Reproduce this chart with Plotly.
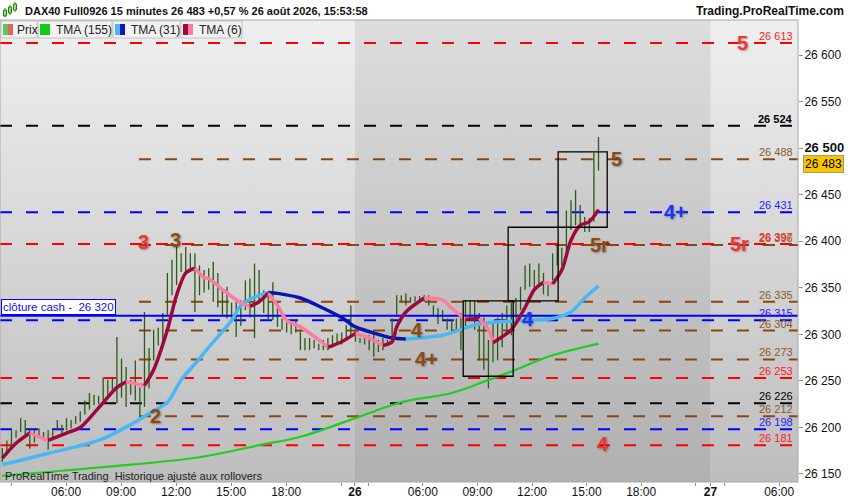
import plotly.graph_objects as go

# ---------------- data ----------------
opens = [26168,26173,26181,26193,26197,26204,26194,26186,26195,26191,
         26177,26191,26205,26197,26199,26204,26206,26208,26217,26224,
         26229,26227,26231,26238,26240,26246,26268,26238,26240,26271,
         26224,26226,26272,26274,26294,26294,26323,26344,26369,26378,
         26367,26371,26380,26367,26348,26364,26360,26356,26331,26337,
         26326,26318,26315,26329,26340,26334,26366,26344,26321,26329,
         26331,26308,26310,26305,26313,26285,26294,26285,26287,26285,
         26291,26285,26292,26292,26292,26298,26305,26301,26294,26292,
         26286,26298,26283,26285,26291,26299,26323,26337,26335,26337,
         26339,26337,26339,26340,26326,26313,26317,26307,26302,26313,
         26285,26312,26329,26334,26299,26312,26272,26310,26278,26294,
         26308,26317,26323,26329,26355,26374,26358,26355,26364,26344,
         26361,26378,26378,26390,26428,26423,26421,26423,26412,26426,
         26492]
highs = [26178,26186,26199,26197,26210,26208,26199,26197,26199,26195,
         26197,26197,26208,26203,26210,26208,26212,26217,26229,26237,
         26235,26234,26254,26251,26253,26297,26274,26265,26251,26272,
         26243,26324,26285,26305,26307,26323,26366,26380,26395,26387,
         26394,26387,26387,26374,26369,26371,26378,26366,26348,26351,
         26334,26335,26337,26358,26360,26376,26369,26347,26344,26356,
         26335,26317,26313,26313,26315,26305,26296,26296,26294,26290,
         26294,26296,26299,26301,26302,26310,26331,26305,26296,26296,
         26299,26301,26294,26296,26294,26317,26342,26342,26344,26340,
         26341,26341,26342,26342,26331,26328,26326,26317,26315,26317,
         26323,26337,26337,26336,26323,26318,26294,26313,26318,26323,
         26331,26334,26339,26351,26374,26376,26369,26376,26366,26353,
         26387,26396,26393,26433,26444,26455,26439,26426,26425,26495,
         26512]
lows = [26163,26170,26179,26189,26195,26191,26177,26184,26191,26186,
        26176,26189,26197,26193,26197,26199,26204,26206,26214,26219,
        26224,26225,26229,26235,26238,26226,26232,26222,26235,26229,
        26211,26222,26242,26272,26288,26292,26321,26342,26353,26367,
        26364,26367,26324,26342,26345,26348,26335,26329,26321,26317,
        26313,26297,26309,26326,26318,26296,26334,26323,26315,26315,
        26308,26305,26302,26300,26302,26283,26283,26283,26285,26283,
        26283,26283,26288,26289,26289,26296,26299,26292,26291,26289,
        26283,26276,26281,26283,26289,26297,26321,26335,26331,26335,
        26335,26335,26335,26331,26321,26311,26315,26305,26300,26305,
        26283,26309,26317,26305,26272,26262,26242,26270,26272,26286,
        26301,26299,26317,26326,26348,26351,26348,26351,26343,26341,
        26358,26374,26374,26388,26412,26417,26417,26410,26410,26421,
        26476]
closes = [26173,26181,26195,26191,26208,26195,26183,26193,26197,26189,
          26190,26195,26199,26200,26206,26203,26210,26214,26226,26231,
          26228,26234,26248,26249,26251,26267,26252,26246,26247,26251,
          26240,26262,26283,26297,26299,26315,26345,26360,26378,26369,
          26374,26378,26364,26348,26367,26358,26342,26335,26341,26331,
          26321,26326,26331,26355,26353,26367,26337,26334,26331,26344,
          26310,26315,26302,26310,26305,26299,26285,26294,26292,26288,
          26285,26292,26297,26298,26300,26307,26310,26294,26295,26294,
          26298,26278,26290,26294,26293,26315,26340,26341,26341,26338,
          26336,26340,26341,26334,26328,26326,26323,26315,26312,26308,
          26317,26334,26335,26317,26310,26272,26288,26278,26310,26315,
          26326,26329,26335,26348,26371,26361,26364,26372,26351,26351,
          26380,26390,26390,26423,26421,26439,26437,26414,26421,26492,
          26483]
bar_idx = list(range(len(opens)))

tma155_idx = [0, 21, 43, 56, 65, 77, 87, 98, 105, 112, 119, 130]
tma155_val = [26148, 26157, 26168, 26181, 26190, 26210, 26227, 26237, 26249, 26262, 26276, 26290]

tma31_idx = [0, 10, 21, 28, 32, 36, 39, 43, 45, 50, 52, 55, 58, 60, 65, 70, 74, 77, 82, 85,
             88, 96, 100, 103, 107, 114, 120, 124, 127, 130]
tma31_val = [26160, 26172, 26186, 26203, 26215, 26227, 26251, 26274, 26286, 26315, 26331, 26340,
             26345, 26344, 26339, 26328, 26318, 26308, 26300, 26296, 26295, 26299, 26305, 26310,
             26313, 26315, 26317, 26324, 26339, 26352]

tma6_idx = [0, 3, 6, 8, 10, 14, 17, 21, 25, 27, 31, 33, 36, 38, 40, 42, 44, 45, 48, 52, 54, 56,
            58, 60, 62, 65, 69, 71, 74, 77, 80, 83, 85, 86, 88, 92, 96, 98, 101, 104, 106, 107,
            111, 114, 116, 118, 120, 122, 124, 126, 128, 130]
tma6_val = [26167, 26183, 26194, 26190, 26186, 26194, 26200, 26221, 26243, 26249, 26245, 26262,
            26305, 26342, 26366, 26371, 26361, 26360, 26348, 26334, 26330, 26335, 26344, 26331,
            26315, 26308, 26294, 26286, 26292, 26301, 26296, 26288, 26292, 26308, 26324, 26339,
            26337, 26328, 26316, 26317, 26305, 26291, 26305, 26329, 26348, 26356, 26354, 26369,
            26401, 26417, 26421, 26434]

red_levels = [26613, 26397, 26253, 26181]
black_levels = [26524, 26226]
blue_levels = [26431, 26315, 26198]
brown_levels = [26488, 26396, 26335, 26304, 26273, 26212]
cash_close = 26320
last_price = 26483

# big zone labels: text, bar position, price level, family
zone_text = ["5", "5", "4+", "5r", "5r", "3", "3", "4", "4", "4+", "2", "4"]
zone_bar = [161.5, 134.0, 146.7, 160.8, 130.3, 30.7, 37.7, 114.6, 90.4, 92.6, 33.5, 131.0]
zone_price = [26613, 26488, 26431, 26397, 26396, 26399, 26401, 26317, 26305, 26274, 26212, 26182]
zone_kind = ["red", "brown", "blue", "red", "brown", "red", "brown", "blue", "brown", "brown", "brown", "red"]

box_x0 = [100.5, 110.3, 121.2]
box_x1 = [111.4, 121.2, 131.9]
box_lo = [26255, 26336, 26415]
box_hi = [26336, 26415, 26496]

y_ticks = list(range(26150, 26601, 50))
x_tick_labels = ["", "06:00", "09:00", "12:00", "15:00", "18:00", "", "<b>26</b>", "",
                 "06:00", "09:00", "12:00", "15:00", "18:00", "", "<b>27</b>", "", "06:00"]
x_tick_pos = [2.0, 13.9, 25.9, 37.9, 49.9, 61.9, 73.9, 76.9, 79.8,
              91.7, 103.6, 115.5, 127.4, 139.3, 151.2, 154.4, 157.4, 169.4]

# ---------------- style ----------------
FONT = "Liberation Sans, Arial, sans-serif"
X_RANGE = [-0.5, 173.5]
Y_RANGE = [26141.4, 26637.6]
COL = {"red": "#ff0000", "black": "#000000", "blue": "#0000ff", "brown": "#8b4513"}
LABEL_COL = {"red": "#ff1a1a", "black": "#000000", "blue": "#2222ff", "brown": "#8c5a2a"}
BIG_COL = {"red": "#ee3434", "brown": "#8a4a12", "blue": "#1634ff"}
WICK = "#2b5a12"
UP = "#74ea55"
DOWN = "#ee8a7a"
PLOT_W, PLOT_H, TOP, BOTTOM = 798, 462, 20, 482


def px(x):
    return x / PLOT_W


def py(y):
    return (BOTTOM - y) / PLOT_H


def fmt(v):
    return f"{v:,}".replace(",", " ")


fig = go.Figure()

# background day zones with vertical gradients
zones = [(X_RANGE[0], 76.9, "#bdbdbd", "#efefef"),
         (76.9, 154.4, "#b0b0b0", "#dddddd"),
         (154.4, X_RANGE[1], "#bdbdbd", "#efefef")]
for x0, x1, cb, ct in zones:
    fig.add_trace(go.Scatter(
        x=[x0, x1, x1, x0, x0], y=[Y_RANGE[0], Y_RANGE[0], Y_RANGE[1], Y_RANGE[1], Y_RANGE[0]],
        mode="lines", line=dict(width=0), fill="toself",
        fillgradient=dict(type="vertical", colorscale=[[0, cb], [1, ct]]),
        hoverinfo="skip"))

# dashed level lines
DASH = "12px,14px"
def level_line(v, kind, start):
    fig.add_trace(go.Scatter(x=[start, X_RANGE[1]], y=[v, v], mode="lines",
                             line=dict(color=COL[kind], width=2, dash=DASH), hoverinfo="skip"))

for v in brown_levels:
    level_line(v, "brown", 29.8)
for v in black_levels:
    level_line(v, "black", X_RANGE[0])
for v in blue_levels:
    level_line(v, "blue", X_RANGE[0])
for v in red_levels:
    level_line(v, "red", X_RANGE[0])

# candles: wicks + bodies
wx, wy = [], []
for i, h, l in zip(bar_idx, highs, lows):
    wx += [i, i, None]
    wy += [l, h, None]
fig.add_trace(go.Scatter(x=wx, y=wy, mode="lines", line=dict(color=WICK, width=1.3), hoverinfo="skip"))
bases = [min(o, c) for o, c in zip(opens, closes)]
heights = [max(abs(c - o), 1.5) for o, c in zip(opens, closes)]
colors = [UP if c >= o else DOWN for o, c in zip(opens, closes)]
fig.add_trace(go.Bar(x=bar_idx, y=heights, base=bases, width=0.8,
                     marker=dict(color=colors, line=dict(color=WICK, width=0.5)), hoverinfo="skip"))

# cash close
fig.add_trace(go.Scatter(x=X_RANGE, y=[cash_close, cash_close], mode="lines",
                         line=dict(color="#0000ff", width=2), hoverinfo="skip"))


def colored_line(xs, ys, up_col, down_col, width):
    n = len(xs)
    start = 0
    while start < n - 1:
        rising = ys[start + 1] >= ys[start]
        end = start + 1
        while end < n - 1 and (ys[end + 1] >= ys[end]) == rising:
            end += 1
        fig.add_trace(go.Scatter(x=xs[start:end + 1], y=ys[start:end + 1], mode="lines",
                                 line=dict(color=up_col if rising else down_col, width=width,
                                           shape="spline", smoothing=0.8),
                                 hoverinfo="skip"))
        start = end


fig.add_trace(go.Scatter(x=tma155_idx, y=tma155_val, mode="lines",
                         line=dict(color="#22cc22", width=2.2, shape="spline"), hoverinfo="skip"))
colored_line(tma31_idx, tma31_val, "#48b8f4", "#0a14b4", 3.5)
colored_line(tma6_idx, tma6_val, "#9c0a3c", "#ff7aa2", 3.5)

annotations = []
shapes = []

# boxes
for x0, x1, lo, hi in zip(box_x0, box_x1, box_lo, box_hi):
    shapes.append(dict(type="rect", xref="x", yref="y", x0=x0, x1=x1, y0=lo, y1=hi,
                       line=dict(color="#000000", width=1.3), fillcolor="rgba(0,0,0,0)"))

# level value labels on the right
def level_label(v, kind, bold=False):
    t = fmt(v)
    if bold:
        t = f"<b>{t}</b>"
    annotations.append(dict(x=0.996, xref="paper", y=v, yref="y", text=t, showarrow=False,
                            xanchor="right", yanchor="bottom", yshift=-1,
                            font=dict(size=11, color=LABEL_COL[kind], family=FONT)))

for v in brown_levels:
    level_label(v, "brown")
for v in black_levels:
    level_label(v, "black", bold=(v == max(black_levels)))
for v in blue_levels:
    level_label(v, "blue")
for v in red_levels:
    level_label(v, "red")

# big zone labels
for t, xb, yv, k in zip(zone_text, zone_bar, zone_price, zone_kind):
    annotations.append(dict(x=xb, y=yv, xref="x", yref="y", text=f"<b>{t}</b>", showarrow=False,
                            xanchor="center", yanchor="middle",
                            font=dict(size=20, color=BIG_COL[k], family=FONT,
                                      shadow="1px 1px 2px rgba(0,0,0,0.35)")))

# cash close box
annotations.append(dict(x=0, xref="paper", y=cash_close, yref="y", xanchor="left", yanchor="bottom",
                        xshift=1, yshift=1, text="clôture cash -  " + fmt(cash_close), showarrow=False,
                        bgcolor="white", bordercolor="#0000ff", borderwidth=1, borderpad=1,
                        font=dict(size=11.5, color="#1010ee", family=FONT)))

# last price tag
annotations.append(dict(x=1, xref="paper", y=last_price, yref="y", xanchor="left", yanchor="middle",
                        xshift=5, text=fmt(last_price), showarrow=False, bgcolor="#f7c600",
                        bordercolor="#a89a5a", borderwidth=1, borderpad=1,
                        font=dict(size=12, color="black", family=FONT)))

# footer text
annotations.append(dict(x=px(3), xref="paper", y=py(476), yref="paper", xanchor="left", yanchor="middle",
                        text="ProRealTime Trading  Historique ajusté aux rollovers", showarrow=False,
                        font=dict(size=11, color="#222222", family=FONT)))

# header
annotations.append(dict(x=px(23), xref="paper", y=py(11), yref="paper", xanchor="left", yanchor="middle",
                        text="<b>DAX40 Full0926 15 minutes 26 483 +0,57 % 26 août 2026, 15:53:58</b>",
                        showarrow=False, font=dict(size=11, color="#111111", family=FONT)))
annotations.append(dict(x=px(846), xref="paper", y=py(11), yref="paper", xanchor="right", yanchor="middle",
                        text="<b>Trading.ProRealTime.com</b>", showarrow=False,
                        font=dict(size=12, color="#111111", family=FONT)))
# header icon (small candles)
for cx, y0, y1, w0, w1 in [(5, 10, 16, 8, 17), (10, 7, 13, 5, 15), (15, 4, 10, 2, 12)]:
    shapes.append(dict(type="line", xref="paper", yref="paper", x0=px(cx), x1=px(cx), y0=py(w1), y1=py(w0),
                       line=dict(color="#2b7a12", width=1)))
    shapes.append(dict(type="rect", xref="paper", yref="paper", x0=px(cx - 1.5), x1=px(cx + 1.5),
                       y0=py(y1), y1=py(y0), line=dict(color="#2b7a12", width=1), fillcolor="#8fe070"))

# legend strip
legend_boxes = [(1, 37, "Prix", ["#5cc85c", "#e06464"], 15),
                (38, 112, "TMA (155)", ["#11cc11", "#11cc11"], 54),
                (113, 180, "TMA (31)", ["#48b8f4", "#0a14c8"], 129),
                (181, 242, "TMA (6)", ["#9c0a3c", "#ff7aa2"], 197)]
for x0, x1, label, cols, tx in legend_boxes:
    shapes.append(dict(type="rect", xref="paper", yref="paper", x0=px(x0), x1=px(x1), y0=py(38), y1=py(21),
                       line=dict(color="#c4c4c4", width=1), fillcolor="#f2f2f2"))
    shapes.append(dict(type="rect", xref="paper", yref="paper", x0=px(x0 + 2), x1=px(x0 + 7),
                       y0=py(35), y1=py(24), line=dict(width=0), fillcolor=cols[0]))
    shapes.append(dict(type="rect", xref="paper", yref="paper", x0=px(x0 + 7), x1=px(x0 + 12),
                       y0=py(35), y1=py(24), line=dict(width=0), fillcolor=cols[1]))
    annotations.append(dict(x=px(tx), xref="paper", y=py(29.5), yref="paper", xanchor="left", yanchor="middle",
                            text=label, showarrow=False, font=dict(size=12, color="#222222", family=FONT)))

# plot border
shapes.append(dict(type="rect", xref="paper", yref="paper", x0=0, x1=1, y0=0, y1=1,
                   line=dict(color="#a8a8a8", width=1), fillcolor="rgba(0,0,0,0)"))

y_text = [f"<b><span style='font-size:13px'>{fmt(v)}</span></b>" if v % 500 == 0 else fmt(v) for v in y_ticks]

fig.update_layout(
    width=850, height=500, margin=dict(l=0, r=52, t=TOP, b=500 - BOTTOM, autoexpand=False),
    paper_bgcolor="white", plot_bgcolor="#d0d0d0", showlegend=False, barmode="overlay",
    hovermode=False, font=dict(family=FONT, size=12, color="black"),
    xaxis=dict(range=X_RANGE, tickvals=x_tick_pos, ticktext=x_tick_labels, ticks="outside",
               ticklen=3, tickcolor="#909090", showgrid=False, zeroline=False, showline=False,
               ticklabelstandoff=-4,
               tickfont=dict(size=12, family=FONT, color="#111111"), fixedrange=True),
    yaxis=dict(range=Y_RANGE, side="right", tickvals=y_ticks, ticktext=y_text, ticks="outside",
               ticklen=4, tickcolor="#909090", showgrid=False, zeroline=False, showline=False,
               ticklabelstandoff=-1,
               tickfont=dict(size=12, family=FONT, color="#111111"), fixedrange=True),
    annotations=annotations, shapes=shapes,
)

fig.write_html("out.html", config={"displayModeBar": False},
               post_script="document.body.style.margin='0';document.body.style.overflow='hidden';")
